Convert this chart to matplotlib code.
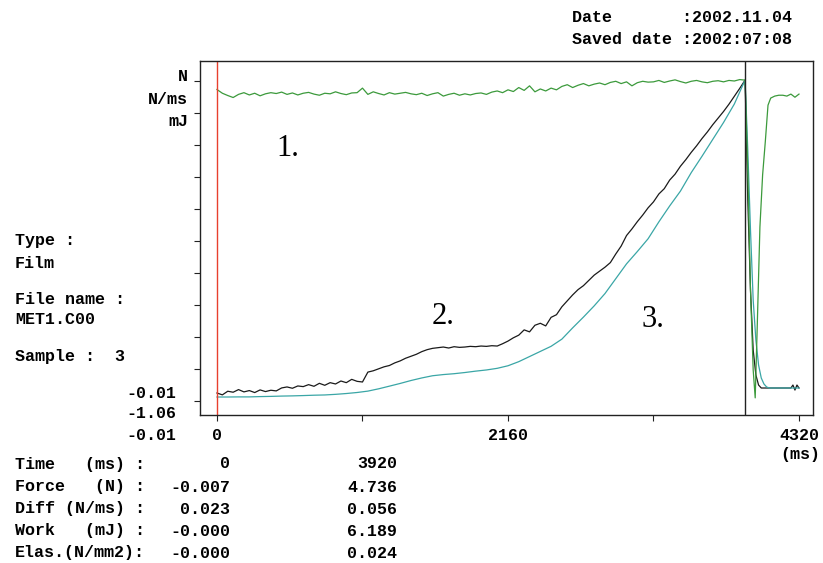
import matplotlib
matplotlib.use('Agg')
import matplotlib.pyplot as plt
import numpy as np

W, H = 823, 563

# recorder sampling (ms) up to the break cursor
time_fine = np.arange(0, 3921, 40)
time_coarse = np.arange(0, 3921, 80)

# Diff (N/ms), one sample every 40 ms
diff_n_per_ms = [
    0.023,
    0.010, 0.002, -0.005, 0.006, 0.012, 0.004, 0.010, 0.001, 0.008, 0.012,
    0.009, 0.014, 0.006, 0.011, 0.004, 0.010, 0.013, 0.007, 0.003, 0.010,
    0.008, 0.015, 0.009, 0.005, 0.011,
    0.012, 0.028, 0.006, 0.015, 0.009, 0.004, 0.012, 0.007, 0.010, 0.013, 0.008,
    0.005, 0.010, 0.002, 0.008, 0.012, 0.000, 0.006, 0.010, 0.003,
    0.008, 0.004, 0.009, 0.011, 0.006,
    0.014, 0.018, 0.012, 0.022, 0.016, 0.030, 0.020, 0.036, 0.015, 0.025,
    0.018, 0.028, 0.022, 0.034, 0.040, 0.030, 0.038, 0.044, 0.036, 0.042,
    0.046, 0.040, 0.048, 0.052, 0.044, 0.050, 0.036, 0.047, 0.052, 0.049,
    0.050, 0.055, 0.048, 0.053, 0.057, 0.051, 0.046, 0.052, 0.055, 0.050,
    0.047, 0.052, 0.054, 0.050, 0.055, 0.053, 0.058,
    0.056,
]

# Force (N), one sample every 40 ms
force_n = [
    -0.007,
    -0.035, 0.020, 0.005, 0.045, 0.010, 0.030, 0.000, 0.040, 0.015, 0.035, 0.025,
    0.070, 0.085, 0.065, 0.100, 0.090, 0.120, 0.095, 0.140, 0.110, 0.150,
    0.130, 0.175, 0.150, 0.200, 0.170,
    0.160, 0.310, 0.330, 0.360, 0.390, 0.410, 0.450, 0.480, 0.520, 0.550,
    0.580, 0.620, 0.650, 0.670, 0.680, 0.690, 0.675, 0.695, 0.685,
    0.690, 0.700, 0.695, 0.705, 0.700, 0.710, 0.705, 0.740,
    0.780, 0.830, 0.870, 0.950, 0.920, 1.020, 1.050, 1.010, 1.140, 1.180, 1.300,
    1.390, 1.480, 1.560, 1.620, 1.700, 1.780, 1.840, 1.900, 1.970, 2.100,
    2.220, 2.380, 2.480, 2.590, 2.690, 2.800, 2.890, 3.010, 3.090, 3.220, 3.310,
    3.430, 3.530, 3.640, 3.740, 3.850, 3.950, 4.060, 4.160, 4.260, 4.370,
    4.490, 4.610,
    4.736,
]

# Work (mJ), one sample every 80 ms
work_mj = [
    -0.0002, 0.000, 0.002, 0.002, 0.008, 0.012, 0.018, 0.022, 0.028, 0.035,
    0.040, 0.052, 0.068, 0.088, 0.115, 0.160, 0.212, 0.265, 0.322, 0.372,
    0.415, 0.438, 0.455, 0.478, 0.505, 0.528, 0.560, 0.610, 0.690, 0.790,
    0.890, 0.990, 1.130, 1.350, 1.560, 1.780, 2.020, 2.310, 2.600, 2.840,
    3.090, 3.420, 3.730, 4.020, 4.380, 4.700, 5.030, 5.360, 5.720, 6.189,
]

# after the break
time_diff_after = [3940, 3960, 3980, 3995, 4010, 4030, 4050, 4070, 4090,
                   4110, 4140, 4170, 4200, 4230, 4260, 4290, 4320]
diff_after = [-0.260, -0.681, -0.962, -1.060, -0.811, -0.460, -0.277, -0.160,
              -0.032, -0.007, 0.000, 0.003, 0.003, 0.000, 0.007, -0.004, 0.007]

time_force_after = [3940, 3960, 3980, 4000, 4020, 4040, 4100, 4200, 4260,
                    4275, 4290, 4305, 4320]
force_after = [2.918, 1.554, 0.645, 0.266, 0.114, 0.069, 0.069, 0.069, 0.069,
               0.114, 0.038, 0.114, 0.069]

time_work_after = [3940, 3960, 3980, 4000, 4020, 4040, 4060, 4080, 4100,
                   4200, 4320]
work_after = [4.822, 3.260, 1.894, 1.113, 0.625, 0.371, 0.254, 0.195, 0.176,
              0.176, 0.176]

elas_n_per_mm2 = [-0.0002, 0.024]

# channel span drawn over the 10 divisions
FORCE_SPAN = (-0.128, 4.722)
DIFF_SPAN = (-1.071, 0.053)
WORK_SPAN = (-0.078, 6.170)

cursor_ms = [0, 3920]
x_ticks = [0, 1080, 2160, 3240, 4320]
x_tick_labels = ['0', '', '2160', '', '4320']

MONO = dict(family='Liberation Mono', fontweight='bold', fontsize=12)


def to_div(values, span):
    lo, hi = span
    return (np.asarray(values, dtype=float) - lo) / (hi - lo) * 10.0


def put(fig, x, y, s, ha='left'):
    """Place a text with its anchor given in pixels from the top left."""
    fig.text(x / W, 1 - y / H, s, ha=ha, va='center', **MONO)


fig = plt.figure(figsize=(W / 100, H / 100), dpi=100)
ax = fig.add_axes([200 / W, (H - 415) / H, 613 / W, 354 / H])

t_force = np.concatenate([time_fine, time_force_after])
t_work = np.concatenate([time_coarse, time_work_after])
t_diff = np.concatenate([time_fine, time_diff_after])

ax.plot(t_force, to_div(np.concatenate([force_n, force_after]), FORCE_SPAN),
        color='#1a1a1a', lw=0.9)
ax.plot(t_work, to_div(np.concatenate([work_mj, work_after]), WORK_SPAN),
        color='#3aa6a6', lw=0.9)
ax.plot(t_diff, to_div(np.concatenate([diff_n_per_ms, diff_after]), DIFF_SPAN),
        color='#3c9a3c', lw=0.9)

ax.axvline(cursor_ms[0], color='#e8402e', lw=1.0)
ax.axvline(cursor_ms[1], color='#222222', lw=1.0)

ax.set_xlim(-126, 4424)
ax.set_ylim(-0.4375, 10.625)
ax.set_yticks(range(11))
ax.set_yticklabels([])
ax.set_xticks(x_ticks)
ax.set_xticklabels(x_tick_labels)
for lab in ax.get_xticklabels():
    lab.set_fontfamily(MONO['family'])
    lab.set_fontweight('bold')
    lab.set_fontsize(MONO['fontsize'])
ax.tick_params(direction='out', length=4.5, width=0.8, color='#222222', pad=5)
for sp in ax.spines.values():
    sp.set_linewidth(1.0)
    sp.set_color('#222222')

serif = dict(family='Liberation Serif', fontsize=22, ha='center', va='center')
ax.text(527, 7.875, '1.', **serif)
ax.text(1678, 2.625, '2.', **serif)
ax.text(3236, 2.56, '3.', **serif)

# header
put(fig, 572, 17, 'Date       :2002.11.04')
put(fig, 572, 39, 'Saved date :2002:07:08')

# channel units and lower limits
put(fig, 188, 77, 'N', ha='right')
put(fig, 188, 99, 'N/ms', ha='right')
put(fig, 188, 121, 'mJ', ha='right')
put(fig, 176, 393, '-0.01', ha='right')
put(fig, 176, 414, '-1.06', ha='right')
put(fig, 176, 436, '-0.01', ha='right')

# sample info
put(fig, 15, 241, 'Type :')
put(fig, 15, 263, 'Film')
put(fig, 15, 299, 'File name :')
put(fig, 15, 320, 'MET1.C00')
put(fig, 15, 357, 'Sample :  3')

put(fig, 800, 455, '(ms)', ha='center')

# cursor readout
row_labels = ['Time   (ms) :', 'Force   (N) :', 'Diff (N/ms) :',
              'Work   (mJ) :', 'Elas.(N/mm2):']
i40 = [c // 40 for c in cursor_ms]
i80 = [c // 80 for c in cursor_ms]
readout = [
    ['%d' % c for c in cursor_ms],
    ['%.3f' % force_n[i] for i in i40],
    ['%.3f' % diff_n_per_ms[i] for i in i40],
    ['%.3f' % work_mj[i] for i in i80],
    ['%.3f' % v for v in elas_n_per_mm2],
]
row_y = [464, 487, 509, 531, 553]
for y, lab, (v0, v1) in zip(row_y, row_labels, readout):
    put(fig, 15, y, lab)
    put(fig, 230, y, v0, ha='right')
    put(fig, 397, y, v1, ha='right')

fig.savefig('out.png', dpi=100)
